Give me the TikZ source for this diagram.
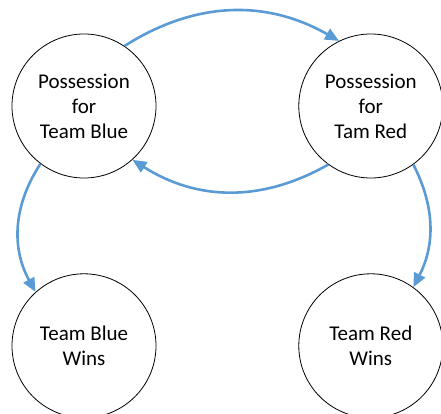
\documentclass[tikz,border=0pt]{standalone}
\usepackage{fontspec}
\usepackage{xcolor}
\usepackage{tikz}
\usetikzlibrary{positioning,arrows.meta}
\newfontfamily\statefont{Carlito}
\definecolor{edgeblue}{HTML}{5B9BD5}

\begin{document}
\begin{tikzpicture}[
  node distance=95pt and 142pt,
  state/.style={circle, draw, line width=0.8pt, align=center, font={\statefont\fontsize{21pt}{25pt}\selectfont}, minimum size=144pt, inner sep=0pt},
  arrow/.style={-{Triangle[length=14pt,width=12pt]}, line width=2.6pt, draw=edgeblue}
]
  \useasboundingbox (-84pt,106pt) rectangle (357pt,-308pt);
  % States
  \node[state] (blue) {Possession\\for\\Team Blue};
  \node[state, right=of blue] (red) {Possession\\for\\Tam Red};
  \node[state, below=of blue] (bluewins) {Team Blue\\Wins};
  \node[state, below=of red] (redwins) {Team Red\\Wins};

  % Transitions
  \draw[arrow] (blue.56) to[bend left=31] (red.116);
  \draw[arrow] (red.234) to[bend left=31] (blue.312);
  \draw[arrow] (blue.233) to[bend right=31] (bluewins.132);
  \draw[arrow] (red.306) to[bend left=27] (redwins.54);
\end{tikzpicture}
\end{document}
